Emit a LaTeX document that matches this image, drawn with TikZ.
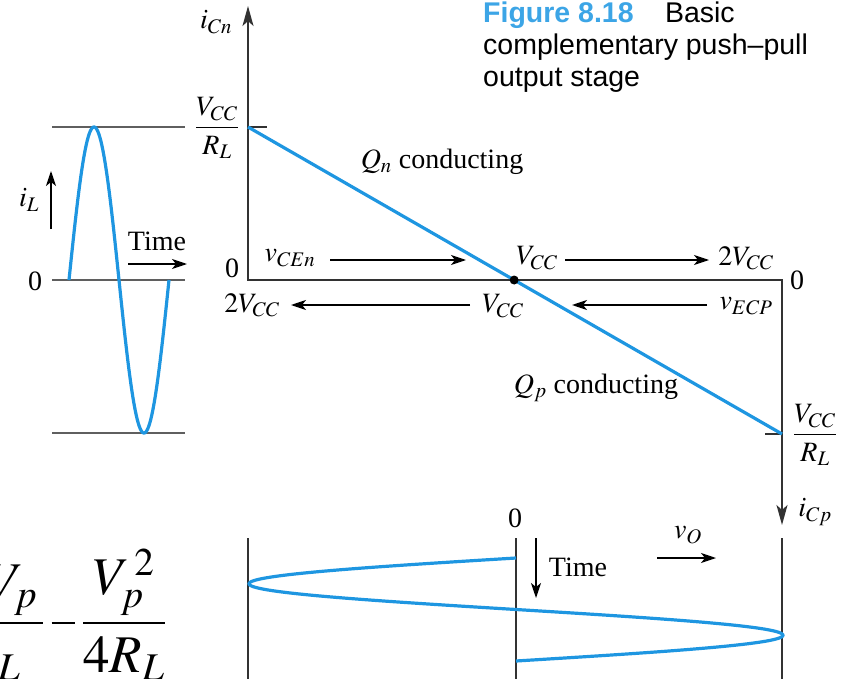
\documentclass[tikz,border=0pt]{standalone}
\usepackage{amsmath}
\usepackage{mathptmx}
\usepackage{fontspec}
\setmainfont{Liberation Serif}
\newfontfamily\capfont{Liberation Sans}
\usetikzlibrary{arrows.meta}
\definecolor{curveblue}{RGB}{30,150,225}
\definecolor{capblue}{RGB}{60,165,230}
\definecolor{axisgray}{RGB}{50,50,50}
\definecolor{refgray}{RGB}{95,95,95}
\newcommand\lblsize{\fontsize{28}{32}\selectfont}
\newcommand\shortminus{\mathbin{\rule[12.5pt]{23pt}{1.7pt}}}
\begin{document}
\begin{tikzpicture}[x=1pt,y=-1pt,
  axis/.style={draw=axisgray,line width=2pt},
  refline/.style={draw=refgray,line width=2.2pt},
  curve/.style={draw=curveblue,line width=3.2pt},
  tip/.style={-{Stealth[length=15pt,width=10pt,inset=4pt]}},
  arr/.style={draw=black,line width=1.4pt,tip},
  lbl/.style={inner sep=0pt,font=\lblsize},
]
\useasboundingbox (0,0) rectangle (843,679);
\clip (0,0) rectangle (843,679);

% ---------- caption ----------
\node[anchor=north west,inner sep=0pt,align=left,
      font=\capfont\fontsize{28.5}{32}\selectfont] (cap) at (483,2)
  {\textcolor{capblue}{\bfseries Figure 8.18}\hspace{1.1em}Basic\\
   complementary push–pull\\
   output stage};

% ---------- main transfer characteristic ----------
\coordinate (Ytop) at (248,6);
\coordinate (O) at (248,280);
\coordinate (R0) at (782,280);
\coordinate (Ybot) at (782,525);
\draw[axis,{Stealth[length=20pt,width=11pt,inset=5pt]}-{Stealth[length=20pt,width=11pt,inset=5pt]}]
  (Ytop) -- (O) -- (R0) -- (Ybot);

\coordinate (tkL) at (248,127);
\coordinate (tkLe) at (267,127);
\coordinate (tkR) at (782,434);
\coordinate (tkRe) at (765,434);
\draw[axis] (tkL) -- (tkLe);
\draw[axis] (tkRe) -- (tkR);

\draw[curve] (tkL) -- (tkR);
\path (tkL) -- (tkR) coordinate[pos=0.4984] (Q);
\node[circle,fill=black,inner sep=0pt,minimum size=9pt] (dot) at (Q) {};

\node[lbl] (iCn) at (216,22) {$i_{Cn}$};
\node[lbl] (fracL) at (217,128) {$\dfrac{V_{CC}}{R_L}$};
\node[lbl] (zeroO) at (232,268) {0};
\node[lbl] (zeroR) at (797,280) {0};
\node[lbl] (fracR) at (815,435) {$\dfrac{V_{CC}}{R_L}$};
\node[lbl] (iCp) at (815,512) {$i_{Cp}$};

\node[lbl] (Qn) at (442,162) {$Q_n$ conducting};
\node[lbl] (Qp) at (596,388) {$Q_p$ conducting};

% upper row
\node[lbl] (vCEn) at (290,258) {$v_{CEn}$};
\node[lbl] (VccU) at (537,258) {$V_{CC}$};
\node[lbl] (twoVccU) at (746,258) {$2V_{CC}$};
\coordinate (a1s) at (330,260);
\coordinate (a1e) at (466,260);
\coordinate (a2s) at (565,260);
\coordinate (a2e) at (709,260);
\draw[arr] (a1s) -- (a1e);
\draw[arr] (a2s) -- (a2e);

% lower row
\node[lbl] (twoVccL) at (252,305) {$2V_{CC}$};
\node[lbl] (VccL) at (503,306) {$V_{CC}$};
\node[lbl] (vECP) at (746,306) {$v_{ECP}$};
\coordinate (b1s) at (470,305);
\coordinate (b1e) at (291,305);
\coordinate (b2s) at (707,305);
\coordinate (b2e) at (572,305);
\draw[arr] (b1s) -- (b1e);
\draw[arr] (b2s) -- (b2e);

% ---------- load current waveform (left) ----------
\coordinate (h1a) at (52,127); \coordinate (h1b) at (185,127);
\coordinate (h2a) at (52,280); \coordinate (h2b) at (185,280);
\coordinate (h3a) at (52,433); \coordinate (h3b) at (185,433);
\draw[refline] (h1a) -- (h1b);
\draw[refline] (h2a) -- (h2b);
\draw[refline] (h3a) -- (h3b);
\node[lbl] (zeroL) at (35,281) {0};
\coordinate (iLs) at (51,229);
\coordinate (iLe) at (51,171);
\draw[arr] (iLs) -- (iLe);
\node[lbl] (iL) at (29,200) {$i_L$};
\node[lbl] (timeL) at (157,241) {Time};
\coordinate (tLs) at (128,264);
\coordinate (tLe) at (187,264);
\draw[arr] (tLs) -- (tLe);
\draw[curve] plot[domain=0:360,samples=150] ({69+\x/3.6},{280-153*sin(\x)});

% ---------- output voltage waveform (bottom) ----------
\coordinate (g1a) at (248,538); \coordinate (g1b) at (248,679);
\coordinate (g2a) at (516,538); \coordinate (g2b) at (516,679);
\coordinate (g3a) at (782,538); \coordinate (g3b) at (782,679);
\draw[axis] (g1a) -- (g1b);
\draw[axis] (g2a) -- (g2b);
\draw[axis] (g3a) -- (g3b);
\node[lbl] (zeroB) at (515,518) {0};
\coordinate (tBs) at (536,538);
\coordinate (tBe) at (536,598);
\draw[arr] (tBs) -- (tBe);
\node[lbl] (timeB) at (578,567) {Time};
\node[lbl] (vO) at (688,535) {$v_O$};
\coordinate (vOs) at (657,558);
\coordinate (vOe) at (716,558);
\draw[arr] (vOs) -- (vOe);
\draw[curve] plot[domain=0:360,samples=150] ({516-267*sin(\x)},{558+\x/360*103});

% ---------- clipped formula (bottom left) ----------
\node[inner sep=0pt,anchor=base east,font=\fontsize{53}{62}\selectfont] (form) at (166,636)
  {$\displaystyle\frac{V_{CC}V_{p}\,}{\pi R_L}\shortminus\frac{V_{p}^{\,2}}{4R_L}$};
\end{tikzpicture}
\end{document}
